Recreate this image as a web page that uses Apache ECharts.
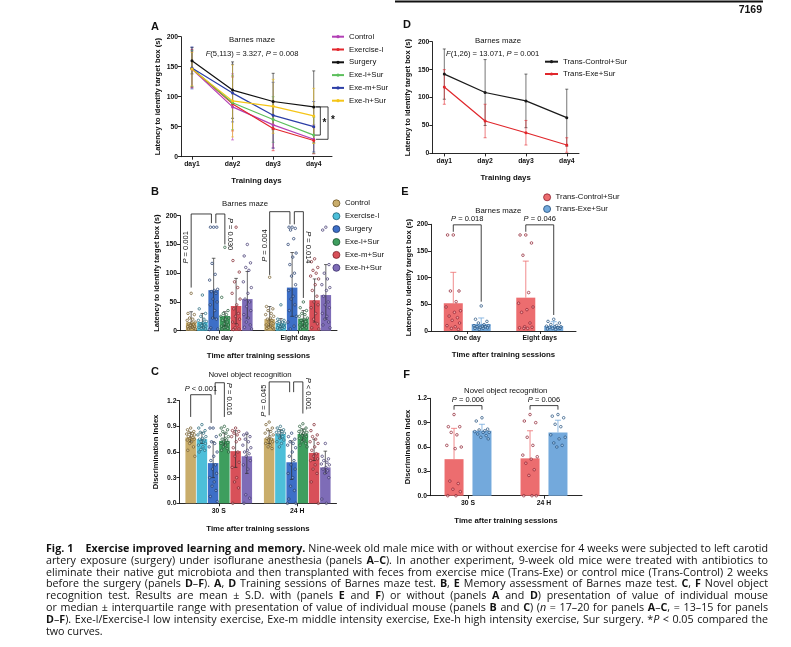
<!DOCTYPE html>
<html>
<head>
<meta charset="utf-8">
<script src="https://cdn.jsdelivr.net/npm/echarts@6/dist/echarts.min.js"></script>
<style>
html,body{margin:0;padding:0;background:#fff;}
#chart{position:absolute;left:0;top:0;width:791px;height:647px;}
#caption{position:absolute;left:46px;top:543px;width:722px;font-family:"Open Sans","Noto Sans",sans-serif;font-size:9.5px;line-height:11.8px;color:#111;}
#caption div{white-space:nowrap;}
#caption.fit div{text-align:justify;text-align-last:justify;}
#caption.fit div.last{text-align-last:left;}
</style>
</head>
<body>
<div id="chart"></div>
<div id="caption">
<div><span><b>Fig. 1</b>&nbsp;&nbsp;&nbsp; <b>Exercise improved learning and memory.</b> Nine-week old male mice with or without exercise for 4 weeks were subjected to left carotid</span></div>
<div><span>artery exposure (surgery) under isoflurane anesthesia (panels <b>A</b>–<b>C</b>). In another experiment, 9-week old mice were treated with antibiotics to</span></div>
<div><span>eliminate their native gut microbiota and then transplanted with feces from exercise mice (Trans-Exe) or control mice (Trans-Control) 2 weeks</span></div>
<div><span>before the surgery (panels <b>D</b>–<b>F</b>). <b>A</b>, <b>D</b> Training sessions of Barnes maze test. <b>B</b>, <b>E</b> Memory assessment of Barnes maze test. <b>C</b>, <b>F</b> Novel object</span></div>
<div><span>recognition test. Results are mean ± S.D. with (panels <b>E</b> and <b>F</b>) or without (panels <b>A</b> and <b>D</b>) presentation of value of individual mouse</span></div>
<div><span>or median ± interquartile range with presentation of value of individual mouse (panels <b>B</b> and <b>C</b>) (<i>n</i> = 17–20 for panels <b>A</b>–<b>C</b>, = 13–15 for panels</span></div>
<div><span><b>D</b>–<b>F</b>). Exe-l/Exercise-l low intensity exercise, Exe-m middle intensity exercise, Exe-h high intensity exercise, Sur surgery. *<i>P</i> &lt; 0.05 compared the</span></div>
<div class="last"><span>two curves.</span></div>
</div>
<script>
const FONT = '"Liberation Sans", Arial, sans-serif';

// ---- panel A : Barnes maze training (mean ± SD)
const dayLabels = ['day1', 'day2', 'day3', 'day4'];
const groupNames = ['Control', 'Exercise-l', 'Surgery', 'Exe-l+Sur', 'Exe-m+Sur', 'Exe-h+Sur'];
const aControl = [146, 83, 53, 29];
const aExerciseL = [147, 88, 47, 27];
const aSurgery = [160, 111, 92, 83];
const aExeLSur = [147, 90, 62, 36];
const aExeMSur = [148, 106, 69, 50];
const aExeHSur = [146, 93, 84, 68];
const aSdControl = [30, 55, 38, 24];
const aSdExerciseL = [32, 45, 37, 22];
const aSdSurgery = [22, 47, 47, 60];
const aSdExeLSur = [30, 45, 38, 30];
const aSdExeMSur = [35, 48, 55, 42];
const aSdExeHSur = [28, 60, 45, 46];

// ---- panel D : trans groups training
const transNames = ['Trans-Control+Sur', 'Trans-Exe+Sur'];
const dTransControl = [142, 109, 94, 64];
const dTransExe = [119, 58, 37, 15];
const dSdTransControl = [45, 59, 48, 51];
const dSdTransExe = [31, 30, 22, 13];

// ---- panel B : memory, median and IQR
const sessionsB = ['One day', 'Eight days'];
const bMedControl = [14.5, 20], bLowControl = [5, 8], bHighControl = [33, 42];
const bMedExerciseL = [15, 12.7], bLowExerciseL = [5, 5], bHighExerciseL = [30, 21];
const bMedSurgery = [70.5, 75], bLowSurgery = [22, 25], bHighSurgery = [126, 136];
const bMedExeLSur = [25.5, 21], bLowExeLSur = [8, 8], bHighExeLSur = [33, 35];
const bMedExeMSur = [43, 53], bLowExeMSur = [12, 15], bHighExeMSur = [91, 90];
const bMedExeHSur = [55, 62], bLowExeHSur = [22, 20], bHighExeHSur = [103, 115];
const bDotsControl = [[65, 30, 28, 22, 20, 18, 15, 14, 12, 10, 9, 8, 7, 6, 5, 4, 3, 3], [93, 42, 38, 35, 30, 28, 25, 22, 20, 18, 15, 12, 10, 8, 6, 5, 4, 3]];
const bDotsExerciseL = [[62, 38, 30, 25, 20, 18, 16, 14, 12, 10, 9, 8, 6, 5, 4, 3], [45, 20, 18, 16, 15, 14, 12, 10, 9, 8, 7, 6, 5, 4, 3]];
const bDotsSurgery = [[180, 180, 180, 117, 98, 88, 72, 70, 68, 65, 55, 50, 45, 35, 22, 20, 5, 3, 2], [180, 180, 178, 175, 160, 150, 135, 128, 115, 100, 95, 80, 70, 60, 55, 45, 35, 25, 15, 8, 3]];
const bDotsExeLSur = [[145, 58, 35, 30, 28, 25, 22, 20, 18, 15, 12, 10, 8, 6, 5, 4, 3], [50, 40, 35, 30, 28, 25, 22, 20, 18, 16, 14, 12, 10, 8, 6, 5, 3]];
const bDotsExeMSur = [[180, 122, 102, 85, 75, 65, 55, 45, 38, 30, 25, 20, 15, 10, 5, 3, 2], [125, 120, 110, 105, 100, 95, 90, 80, 70, 60, 50, 45, 40, 30, 20, 12, 5, 3]];
const bDotsExeHSur = [[150, 130, 118, 110, 105, 85, 75, 65, 55, 50, 42, 35, 28, 22, 15, 10, 6, 3], [180, 175, 115, 100, 90, 80, 75, 70, 60, 50, 45, 40, 30, 25, 20, 15, 10, 5]];

// ---- panel E : trans memory, mean ± SD
const eMeanTransControl = [52, 62.5], eSdTransControl = [58, 68.5];
const eMeanTransExe = [13, 9.4], eSdTransExe = [11.4, 8];
const eDotsTransControl = [[180, 180, 75, 75, 55, 45, 38, 35, 28, 25, 20, 15, 10, 8, 5, 3], [180, 180, 165, 142, 72, 52, 45, 40, 35, 15, 8, 7, 6, 5, 5]];
const eDotsTransExe = [[47, 22, 18, 15, 12, 10, 10, 9, 8, 8, 7, 6, 5, 5, 3], [22, 18, 15, 12, 10, 9, 8, 8, 7, 6, 5, 5, 4, 3]];

// ---- panel C : novel object recognition, median and IQR
const sessionsC = ['30 S', '24 H'];
const cMedControl = [0.77, 0.76], cLowControl = [0.72, 0.70], cHighControl = [0.83, 0.85];
const cMedExerciseL = [0.75, 0.81], cLowExerciseL = [0.70, 0.76], cHighExerciseL = [0.83, 0.86];
const cMedSurgery = [0.47, 0.48], cLowSurgery = [0.30, 0.28], cHighSurgery = [0.72, 0.73];
const cMedExeLSur = [0.73, 0.81], cLowExeLSur = [0.68, 0.74], cHighExeLSur = [0.82, 0.87];
const cMedExeMSur = [0.61, 0.59], cLowExeMSur = [0.42, 0.50], cHighExeMSur = [0.85, 0.75];
const cMedExeHSur = [0.55, 0.42], cLowExeHSur = [0.35, 0.35], cHighExeHSur = [0.81, 0.61];
const cDotsControl = [[0.88, 0.86, 0.84, 0.83, 0.82, 0.81, 0.80, 0.79, 0.78, 0.77, 0.76, 0.75, 0.74, 0.72, 0.70, 0.66, 0.62, 0.55], [0.95, 0.92, 0.88, 0.86, 0.84, 0.82, 0.80, 0.78, 0.76, 0.75, 0.74, 0.72, 0.70, 0.68, 0.66, 0.64]];
const cDotsExerciseL = [[0.92, 0.88, 0.85, 0.83, 0.82, 0.80, 0.78, 0.76, 0.75, 0.74, 0.72, 0.70, 0.68, 0.66, 0.63, 0.62, 0.60], [0.90, 0.88, 0.86, 0.85, 0.84, 0.83, 0.82, 0.81, 0.80, 0.78, 0.76, 0.74, 0.72, 0.70, 0.66]];
const cDotsSurgery = [[0.88, 0.88, 0.78, 0.72, 0.70, 0.66, 0.60, 0.55, 0.50, 0.45, 0.40, 0.35, 0.30, 0.25, 0.20, 0.15, 0.08, 0.02], [0.82, 0.78, 0.75, 0.72, 0.70, 0.68, 0.65, 0.60, 0.55, 0.50, 0.45, 0.40, 0.35, 0.30, 0.20, 0.15, 0.05, 0.00, 0.00]];
const cDotsExeLSur = [[0.90, 0.88, 0.86, 0.84, 0.82, 0.80, 0.78, 0.76, 0.75, 0.74, 0.72, 0.71, 0.70, 0.68, 0.66, 0.64, 0.62, 0.60], [0.93, 0.90, 0.88, 0.86, 0.85, 0.84, 0.83, 0.82, 0.81, 0.80, 0.79, 0.78, 0.76, 0.74, 0.72, 0.70, 0.68, 0.66]];
const cDotsExeMSur = [[0.88, 0.85, 0.84, 0.82, 0.80, 0.78, 0.75, 0.72, 0.65, 0.60, 0.55, 0.48, 0.42, 0.30, 0.25, 0.18, 0.00], [0.92, 0.85, 0.80, 0.78, 0.75, 0.72, 0.70, 0.66, 0.62, 0.58, 0.55, 0.52, 0.50, 0.45, 0.40, 0.35, 0.25, 0.00]];
const cDotsExeHSur = [[0.82, 0.80, 0.78, 0.75, 0.72, 0.68, 0.65, 0.62, 0.60, 0.58, 0.55, 0.50, 0.45, 0.40, 0.10, 0.06, 0.00], [0.70, 0.55, 0.52, 0.50, 0.48, 0.46, 0.45, 0.42, 0.40, 0.38, 0.35, 0.30, 0.05, 0.00]];

// ---- panel F : trans novel object recognition, mean ± SD
const fMeanTransControl = [0.45, 0.46], fSdTransControl = [0.38, 0.34];
const fMeanTransExe = [0.80, 0.78], fSdTransExe = [0.08, 0.15];
const fDotsTransControl = [[1.00, 0.85, 0.85, 0.78, 0.75, 0.62, 0.60, 0.58, 0.18, 0.15, 0.08, 0.05, 0.00, 0.00], [1.00, 0.92, 0.90, 0.72, 0.62, 0.50, 0.48, 0.45, 0.40, 0.32, 0.25, 0.00, 0.00, 0.00]];
const fDotsTransExe = [[0.96, 0.92, 0.82, 0.81, 0.80, 0.79, 0.78, 0.78, 0.76, 0.74, 0.72, 0.70], [1.00, 0.98, 0.96, 0.88, 0.85, 0.75, 0.72, 0.70, 0.65, 0.62, 0.60]];

// colours
const aColors = ['#b23fb5', '#e3262d', '#111111', '#5cbf5c', '#2c3ea6', '#f5c518'];
const bColors = ['#c9ad6b', '#4dbfd9', '#3d6fc7', '#3e9e5e', '#d85059', '#7e6cb7'];
const bDark = ['#6e5624', '#1d6276', '#1b3669', '#1c5430', '#7c1f28', '#3b306c'];
const dColors = ['#1a1a1a', '#e0262b'];
const eColors = ['#ec6d6f', '#73a9dc'];
const eDark = ['#8c1d2d', '#1f4d7b'];

const BW6 = 10.5, GAP6 = 0.07, BW2 = 19, GAP2 = 0.47;
const jitter = [0, -0.3, 0.3, -0.15, 0.15, -0.38, 0.38, 0.06, -0.22, 0.22, -0.06, 0.33, -0.33, 0.1, -0.1, 0.27, -0.27, 0.4, -0.4, 0.18, -0.18];

function barOffset(j, n, bw, gap) { return (j - (n - 1) / 2) * bw * (1 + gap); }

function errRender(offset, color, cap, lw, both) {
  return function (params, api) {
    const c = api.value(0);
    const lo = api.coord([c, api.value(1)]);
    const hi = api.coord([c, api.value(2)]);
    const x = lo[0] + offset;
    const ch = [
      { type: 'line', shape: { x1: x, y1: lo[1], x2: x, y2: hi[1] }, style: { stroke: color, lineWidth: lw } },
      { type: 'line', shape: { x1: x - cap, y1: hi[1], x2: x + cap, y2: hi[1] }, style: { stroke: color, lineWidth: lw } }
    ];
    if (both) ch.push({ type: 'line', shape: { x1: x - cap, y1: lo[1], x2: x + cap, y2: lo[1] }, style: { stroke: color, lineWidth: lw } });
    return { type: 'group', children: ch };
  };
}

function dotData(groups) {
  const out = [];
  groups.forEach((g, j) => g.forEach((vals, c) => vals.forEach((v, k) => out.push([c, v, j, k]))));
  return out;
}

function dotsRender(n, bw, gap, strokes, r) {
  return function (params, api) {
    const c = api.value(0), j = api.value(2), k = api.value(3);
    const p = api.coord([c, api.value(1)]);
    const x = p[0] + barOffset(j, n, bw, gap) + jitter[k % jitter.length] * bw;
    return { type: 'circle', shape: { cx: x, cy: p[1], r: r }, style: { fill: 'rgba(255,255,255,0.35)', stroke: strokes[j], lineWidth: 0.7 } };
  };
}

const richP = { i: { fontStyle: 'italic', fontSize: 7.5, fontFamily: FONT, fill: '#111' } };

function bracketRender(specs, n, bw, gap) {
  return function (params, api) {
    const s = specs[params.dataIndex];
    const base = api.coord([s.cat, 0]);
    const xa0 = base[0] + barOffset(s.a, n, bw, gap);
    const xb0 = base[0] + barOffset(s.b, n, bw, gap);
    const xa = xa0 + (s.dxA || 0), xb = xb0 + (s.dxB || 0);
    const yTop = api.coord([s.cat, s.top])[1];
    const ya = api.coord([s.cat, s.endA])[1];
    const yb = api.coord([s.cat, s.endB])[1];
    const ch = [{ type: 'polyline', shape: { points: [[xa, ya], [xa, yTop], [xb, yTop], [xb, yb]] }, style: { stroke: '#111', lineWidth: 0.8, fill: null } }];
    let tx, ty;
    if (s.rot === 0) { tx = (xa + xb) / 2; ty = yTop - 5.5; }
    else { tx = (s.on === 'a' ? xa0 : xb0) + s.tdx; ty = api.coord([s.cat, s.ty])[1]; }
    ch.push({ type: 'text', x: tx, y: ty, rotation: s.rot * Math.PI / 180,
      style: { text: s.text, rich: richP, fontSize: 7.5, fontFamily: FONT, fill: '#111', align: 'center', verticalAlign: 'middle' } });
    return { type: 'group', children: ch };
  };
}

const bBrackets = [
  { cat: 0, a: 0, b: 2, dxB: -2.2, top: 203, endA: 75, endB: 187, text: '{i|P} = 0.001', rot: 90, on: 'a', tdx: -4.8, ty: 145 },
  { cat: 0, a: 2, b: 3, dxA: 2.2, top: 203, endA: 187, endB: 150, text: '{i|P} = 0.030', rot: -90, on: 'b', tdx: 5, ty: 168 },
  { cat: 1, a: 0, b: 2, dxB: -2.2, top: 207, endA: 97, endB: 185, text: '{i|P} = 0.004', rot: 90, on: 'a', tdx: -4.8, ty: 148 },
  { cat: 1, a: 2, b: 3, dxA: 2.2, top: 207, endA: 185, endB: 57, text: '{i|P} = 0.014', rot: -90, on: 'b', tdx: 5, ty: 145 }
];
const cBrackets = [
  { cat: 0, a: 0, b: 2, dxB: -2, top: 1.27, endA: 1.01, endB: 0.94, text: '{i|P} < 0.001', rot: 0 },
  { cat: 0, a: 2, b: 3, dxA: 2, top: 1.41, endA: 1.27, endB: 1.01, text: '{i|P} = 0.016', rot: -90, on: 'b', tdx: 5, ty: 1.22 },
  { cat: 1, a: 0, b: 2, dxB: -2, top: 1.42, endA: 1.03, endB: 1.30, text: '{i|P} = 0.045', rot: 90, on: 'a', tdx: -4.8, ty: 1.20 },
  { cat: 1, a: 2, b: 3, dxA: 2, top: 1.42, endA: 1.30, endB: 1.05, text: '{i|P} < 0.001', rot: -90, on: 'b', tdx: 5, ty: 1.28 }
];
const eBrackets = [
  { cat: 0, a: 0, b: 1, top: 199, endA: 186, endB: 55, text: '{i|P} = 0.018', rot: 0 },
  { cat: 1, a: 0, b: 1, top: 199, endA: 186, endB: 30, text: '{i|P} = 0.046', rot: 0 }
];
const fBrackets = [
  { cat: 0, a: 0, b: 1, top: 1.11, endA: 1.06, endB: 1.06, text: '{i|P} = 0.006', rot: 0 },
  { cat: 1, a: 0, b: 1, top: 1.11, endA: 1.06, endB: 1.06, text: '{i|P} = 0.006', rot: 0 }
];

function renderABrackets(params, api) {
  const x0 = api.coord([4, 0])[0];
  const y = v => api.coord([4, v])[1];
  const yTop = y(aSurgery[3]);
  const st = () => ({ stroke: '#111', lineWidth: 0.8, fill: null });
  return { type: 'group', children: [
    { type: 'polyline', shape: { points: [[x0 + 2.3, yTop], [x0 + 14.3, yTop], [x0 + 14.3, y(aControl[3])], [x0 + 2.3, y(aControl[3])]] }, style: st() },
    { type: 'polyline', shape: { points: [[x0 + 1, yTop], [x0 + 6.6, yTop], [x0 + 6.6, y(aExeLSur[3])], [x0 + 1, y(aExeLSur[3])]] }, style: st() },
    { type: 'text', x: x0 + 10.8, y: y(56), style: { text: '*', fontSize: 10, fontWeight: 'bold', fontFamily: FONT, fill: '#111', align: 'center', verticalAlign: 'middle' } },
    { type: 'text', x: x0 + 19.3, y: y(61), style: { text: '*', fontSize: 10, fontWeight: 'bold', fontFamily: FONT, fill: '#111', align: 'center', verticalAlign: 'middle' } }
  ] };
}

const axLine = { show: true, lineStyle: { color: '#111', width: 0.9 } };
const axTick = { show: true, length: 3, lineStyle: { color: '#111', width: 0.9 } };
const labStyle = { fontSize: 6.8, fontWeight: 'bold', color: '#111', fontFamily: FONT };

function yAx(gi, max, interval, dec, name, gap) {
  return {
    type: 'value', gridIndex: gi, min: 0, max: max, interval: interval,
    name: name, nameLocation: 'middle', nameGap: gap,
    nameTextStyle: { fontSize: 7.6, fontWeight: 'bold', color: '#111', fontFamily: FONT },
    axisLine: axLine, axisTick: axTick, splitLine: { show: false },
    axisLabel: Object.assign({ margin: 3, formatter: v => v.toFixed(dec) }, labStyle)
  };
}
function xDay(gi, min, max, gap) {
  return {
    type: 'value', gridIndex: gi, min: min, max: max,
    name: 'Training days', nameLocation: 'middle', nameGap: gap,
    nameTextStyle: { fontSize: 7.8, fontWeight: 'bold', color: '#111', fontFamily: FONT },
    axisLine: axLine, splitLine: { show: false },
    axisTick: Object.assign({ customValues: [1, 2, 3, 4] }, axTick),
    axisLabel: Object.assign({ margin: 4, customValues: [1, 2, 3, 4], formatter: v => dayLabels[Math.round(v) - 1] }, labStyle)
  };
}
function xCat(gi, cats, gap) {
  return {
    type: 'category', gridIndex: gi, data: cats,
    name: 'Time after training sessions', nameLocation: 'middle', nameGap: gap,
    nameTextStyle: { fontSize: 7.8, fontWeight: 'bold', color: '#111', fontFamily: FONT },
    axisLine: axLine, axisTick: Object.assign({ alignWithLabel: true }, axTick),
    axisLabel: Object.assign({ margin: 4 }, labStyle)
  };
}

const series = [];
// A lines + error bars
const aMeans = [aControl, aExerciseL, aSurgery, aExeLSur, aExeMSur, aExeHSur];
const aSds = [aSdControl, aSdExerciseL, aSdSurgery, aSdExeLSur, aSdExeMSur, aSdExeHSur];
aMeans.forEach((m, j) => {
  series.push({ type: 'custom', xAxisIndex: 0, yAxisIndex: 0, z: 2, silent: true, clip: false,
    renderItem: errRender(0, aColors[j], 1.5, 0.6, true), encode: { x: 0, y: [1, 2] },
    data: m.map((v, i) => [i + 1, v - aSds[j][i], v + aSds[j][i]]) });
});
aMeans.forEach((m, j) => {
  series.push({ type: 'line', name: 'A:' + groupNames[j], xAxisIndex: 0, yAxisIndex: 0, z: 3,
    data: m.map((v, i) => [i + 1, v]), symbol: 'circle', symbolSize: 3,
    lineStyle: { color: aColors[j], width: 1.2 }, itemStyle: { color: aColors[j] } });
});
series.push({ type: 'custom', xAxisIndex: 0, yAxisIndex: 0, clip: false, silent: true, renderItem: renderABrackets, data: [[4, 0]] });

// D lines + error bars
const dMeans = [dTransControl, dTransExe];
const dSds = [dSdTransControl, dSdTransExe];
dMeans.forEach((m, j) => {
  series.push({ type: 'custom', xAxisIndex: 1, yAxisIndex: 1, z: 2, silent: true, clip: false,
    renderItem: errRender(0, dColors[j], 1.5, 0.6, true), encode: { x: 0, y: [1, 2] },
    data: m.map((v, i) => [i + 1, v - dSds[j][i], v + dSds[j][i]]) });
  series.push({ type: 'line', name: 'D:' + transNames[j], xAxisIndex: 1, yAxisIndex: 1, z: 3,
    data: m.map((v, i) => [i + 1, v]), symbol: 'circle', symbolSize: 3,
    lineStyle: { color: dColors[j], width: 1.2 }, itemStyle: { color: dColors[j] } });
});

// B and C grouped bars
function addGrouped(prefix, gi, meds, lows, highs, dots, brackets) {
  meds.forEach((m, j) => {
    series.push({ type: 'bar', name: prefix + groupNames[j], xAxisIndex: gi, yAxisIndex: gi, data: m,
      barWidth: BW6, barGap: (GAP6 * 100) + '%', itemStyle: { color: bColors[j] }, silent: true });
  });
  meds.forEach((m, j) => {
    series.push({ type: 'custom', xAxisIndex: gi, yAxisIndex: gi, z: 3, silent: true, clip: false,
      renderItem: errRender(barOffset(j, 6, BW6, GAP6), '#2a2a2a', 1.8, 0.7, true), encode: { x: 0, y: [1, 2] },
      data: m.map((v, c) => [c, lows[j][c], highs[j][c]]) });
  });
  series.push({ type: 'custom', xAxisIndex: gi, yAxisIndex: gi, z: 4, silent: true, clip: false,
    renderItem: dotsRender(6, BW6, GAP6, bDark, 1.25), encode: { x: 0, y: 1 }, data: dotData(dots) });
  series.push({ type: 'custom', xAxisIndex: gi, yAxisIndex: gi, z: 5, silent: true, clip: false,
    renderItem: bracketRender(brackets, 6, BW6, GAP6), data: brackets.map((b, i) => [b.cat, 0, i]) });
}
addGrouped('B:', 2,
  [bMedControl, bMedExerciseL, bMedSurgery, bMedExeLSur, bMedExeMSur, bMedExeHSur],
  [bLowControl, bLowExerciseL, bLowSurgery, bLowExeLSur, bLowExeMSur, bLowExeHSur],
  [bHighControl, bHighExerciseL, bHighSurgery, bHighExeLSur, bHighExeMSur, bHighExeHSur],
  [bDotsControl, bDotsExerciseL, bDotsSurgery, bDotsExeLSur, bDotsExeMSur, bDotsExeHSur], bBrackets);
addGrouped('C:', 4,
  [cMedControl, cMedExerciseL, cMedSurgery, cMedExeLSur, cMedExeMSur, cMedExeHSur],
  [cLowControl, cLowExerciseL, cLowSurgery, cLowExeLSur, cLowExeMSur, cLowExeHSur],
  [cHighControl, cHighExerciseL, cHighSurgery, cHighExeLSur, cHighExeMSur, cHighExeHSur],
  [cDotsControl, cDotsExerciseL, cDotsSurgery, cDotsExeLSur, cDotsExeMSur, cDotsExeHSur], cBrackets);

// E and F paired bars
function addPaired(prefix, gi, means, sds, dots, brackets) {
  means.forEach((m, j) => {
    series.push({ type: 'bar', name: prefix + transNames[j], xAxisIndex: gi, yAxisIndex: gi, data: m,
      barWidth: BW2, barGap: (GAP2 * 100) + '%', itemStyle: { color: eColors[j] }, silent: true });
  });
  means.forEach((m, j) => {
    series.push({ type: 'custom', xAxisIndex: gi, yAxisIndex: gi, z: 3, silent: true, clip: false,
      renderItem: errRender(barOffset(j, 2, BW2, GAP2), eColors[j], 3, 0.8, false), encode: { x: 0, y: [1, 2] },
      data: m.map((v, c) => [c, v, v + sds[j][c]]) });
  });
  series.push({ type: 'custom', xAxisIndex: gi, yAxisIndex: gi, z: 4, silent: true, clip: false,
    renderItem: dotsRender(2, BW2, GAP2, eDark, 1.3), encode: { x: 0, y: 1 }, data: dotData(dots) });
  series.push({ type: 'custom', xAxisIndex: gi, yAxisIndex: gi, z: 5, silent: true, clip: false,
    renderItem: bracketRender(brackets, 2, BW2, GAP2), data: brackets.map((b, i) => [b.cat, 0, i]) });
}
addPaired('E:', 3, [eMeanTransControl, eMeanTransExe], [eSdTransControl, eSdTransExe], [eDotsTransControl, eDotsTransExe], eBrackets);
addPaired('F:', 5, [fMeanTransControl, fMeanTransExe], [fSdTransControl, fSdTransExe], [fDotsTransControl, fDotsTransExe], fBrackets);

const legText = { fontSize: 7.8, color: '#111', fontFamily: FONT, lineHeight: 9 };
const strip = n => n.slice(2);

function txt(x, y, text, size, weight, align, extra) {
  return Object.assign({ type: 'text', x: x, y: y, silent: true,
    style: { text: text, fontSize: size, fontWeight: weight || 'normal', fontFamily: FONT, fill: '#111',
      align: align || 'center', verticalAlign: 'middle', rich: { i: { fontStyle: 'italic', fontSize: size, fontFamily: FONT, fill: '#111' } } } }, extra || {});
}

const option = {
  animation: false,
  backgroundColor: '#fff',
  textStyle: { fontFamily: FONT },
  grid: [
    { left: 181, top: 36.7, width: 151, height: 120 },
    { left: 432.3, top: 41.7, width: 146.7, height: 111.7 },
    { left: 180, top: 215.7, width: 157, height: 115 },
    { left: 431, top: 224.3, width: 145, height: 106.7 },
    { left: 179.5, top: 400.7, width: 157, height: 102.6 },
    { left: 430, top: 398.3, width: 152, height: 97.4 }
  ],
  xAxis: [
    xDay(0, 0.73, 4.45, 20),
    xDay(1, 0.706, 4.30, 20.5),
    xCat(2, sessionsB, 21),
    xCat(3, sessionsB, 20),
    xCat(4, sessionsC, 21.5),
    xCat(5, sessionsC, 21.3)
  ],
  yAxis: [
    yAx(0, 200, 50, 0, 'Latency to identify target box (s)', 19),
    yAx(1, 200, 50, 0, 'Latency to identify target box (s)', 20),
    yAx(2, 200, 50, 0, 'Latency to identify target box (s)', 19),
    yAx(3, 200, 50, 0, 'Latency to identify target box (s)', 18),
    yAx(4, 1.2, 0.3, 1, 'Discrimination Index', 19.5),
    yAx(5, 1.2, 0.3, 1, 'Discrimination Index', 18)
  ],
  legend: [
    { orient: 'vertical', left: 331, top: 32.2, padding: 0, itemWidth: 12, itemHeight: 4, itemGap: 3.8, selectedMode: false,
      data: groupNames.map(n => 'A:' + n), formatter: strip, textStyle: legText },
    { orient: 'vertical', left: 332.5, top: 198.8, padding: 0, itemWidth: 7, itemHeight: 7, itemGap: 3.9, selectedMode: false, icon: 'circle',
      data: groupNames.map((n, j) => ({ name: 'B:' + n, itemStyle: { color: bColors[j], borderColor: bDark[j], borderWidth: 0.8 } })),
      formatter: strip, textStyle: legText },
    { orient: 'vertical', left: 544, top: 57.2, padding: 0, itemWidth: 13, itemHeight: 4, itemGap: 3.3, selectedMode: false,
      data: transNames.map(n => 'D:' + n), formatter: strip, textStyle: legText },
    { orient: 'vertical', left: 543.2, top: 192.8, padding: 0, itemWidth: 7, itemHeight: 7, itemGap: 2.7, selectedMode: false, icon: 'circle',
      data: transNames.map((n, j) => ({ name: 'E:' + n, itemStyle: { color: eColors[j], borderColor: eDark[j], borderWidth: 0.8 } })),
      formatter: strip, textStyle: legText }
  ],
  graphic: [
    { type: 'line', silent: true, shape: { x1: 395, y1: 1.5, x2: 763, y2: 1.5 }, style: { stroke: '#111', lineWidth: 2 } },
    txt(762, 10, '7169', 10.5, 'bold', 'right'),
    txt(155, 26.7, 'A', 11, 'bold'),
    txt(155, 192.3, 'B', 11, 'bold'),
    txt(155, 371.7, 'C', 11, 'bold'),
    txt(407, 25, 'D', 11, 'bold'),
    txt(405, 192.3, 'E', 11, 'bold'),
    txt(406.5, 375, 'F', 11, 'bold'),
    txt(252, 40, 'Barnes maze', 7.8),
    txt(252, 54, '{i|F}(5,113) = 3.327, {i|P} = 0.008', 7.6),
    txt(498, 40.7, 'Barnes maze', 7.8),
    txt(446, 54.3, '{i|F}(1,26) = 13.071, {i|P} = 0.001', 7.6, 'normal', 'left'),
    txt(245, 204, 'Barnes maze', 7.8),
    txt(498.3, 211, 'Barnes maze', 7.8),
    txt(250, 375, 'Novel object recognition', 7.8),
    txt(505.7, 390.7, 'Novel object recognition', 7.8)
  ],
  series: series
};

const chart = echarts.init(document.getElementById('chart'));
chart.setOption(option);

// size the caption so its widest line just fills the column, then justify
const cap = document.getElementById('caption');
let widest = 0;
cap.querySelectorAll('div:not(.last) span').forEach(s => { widest = Math.max(widest, s.getBoundingClientRect().width); });
if (widest > 0) cap.style.fontSize = (9.5 * 716 / widest).toFixed(2) + 'px';
cap.classList.add('fit');
</script>
</body>
</html>
